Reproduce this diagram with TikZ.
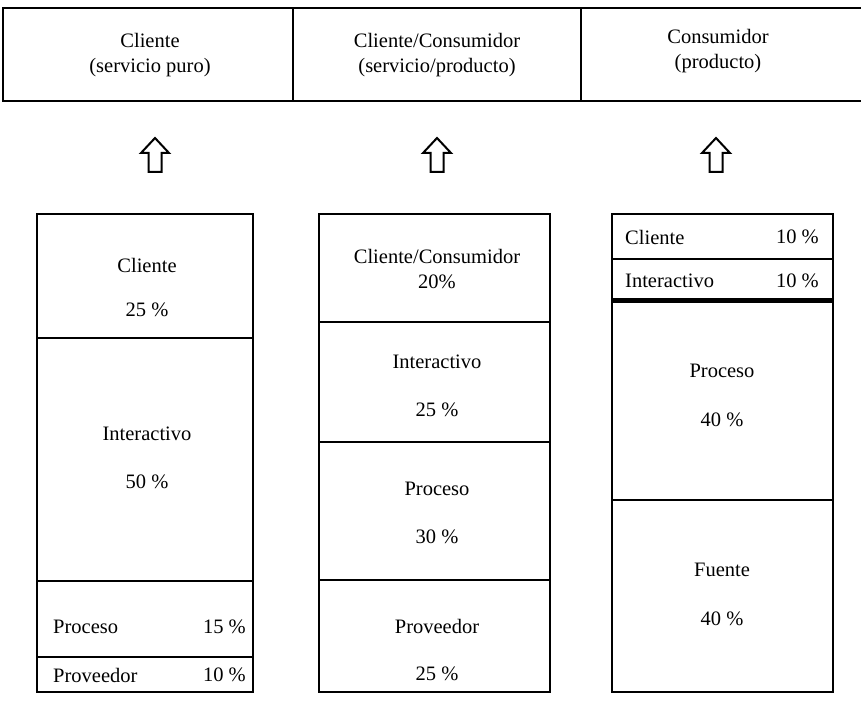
\documentclass[tikz,border=0pt]{standalone}
\usepackage{fontspec}
\setmainfont{Liberation Serif}
\begin{document}
\begin{tikzpicture}[x=1pt,y=-1pt,
  frame/.style={line width=2.5pt,line join=miter},
  divider/.style={line width=2.5pt},
  lbl/.style={font=\fontsize{20.5}{25}\selectfont,inner sep=0pt,align=center},
  blockarrow/.style={line width=2pt,line join=miter}]
\useasboundingbox (0,0) rectangle (861,703);
% top band
\draw[frame] (861,8) -- (3,8) -- (3,101) -- (861,101);
\draw[frame] (293,8) -- (293,101);
\draw[frame] (581,8) -- (581,101);
\node[lbl] (t1) at (150,55) {Cliente\\(servicio puro)};
\node[lbl] (t2) at (437,55) {Cliente/Consumidor\\(servicio/producto)};
\node[lbl] (t3) at (718,51) {Consumidor\\(producto)};
% arrows
\foreach \ax in {155,437,716}{
  \draw[blockarrow] (\ax,138) -- (\ax+14,153) -- (\ax+6.5,153) -- (\ax+6.5,172)
     -- (\ax-6.5,172) -- (\ax-6.5,153) -- (\ax-14,153) -- cycle;
}
% column 1
\draw[frame] (37,214) rectangle (253,692);
\draw[divider] (37,338) -- (253,338);
\draw[divider] (37,581) -- (253,581);
\draw[divider] (37,657) -- (253,657);
\node[lbl] (a1) at (147,265) {Cliente};
\node[lbl] (a2) at (147,310) {25 \%};
\node[lbl] (a3) at (147,434) {Interactivo};
\node[lbl] (a4) at (147,482) {50 \%};
\node[lbl,anchor=west] (a5) at (53,627) {Proceso};
\node[lbl,anchor=east] (a6) at (246,627) {15 \%};
\node[lbl,anchor=west] (a7) at (53,675) {Proveedor};
\node[lbl,anchor=east] (a8) at (246,675) {10 \%};
% column 2
\draw[frame] (319,214) rectangle (550,692);
\draw[divider] (319,322) -- (550,322);
\draw[divider] (319,442) -- (550,442);
\draw[divider] (319,580) -- (550,580);
\node[lbl] (b1) at (437,269) {Cliente/Consumidor\\20\%};
\node[lbl] (b2) at (437,362) {Interactivo};
\node[lbl] (b3) at (437,410) {25 \%};
\node[lbl] (b4) at (437,489) {Proceso};
\node[lbl] (b5) at (437,537) {30 \%};
\node[lbl] (b6) at (437,626) {Proveedor};
\node[lbl] (b7) at (437,674) {25 \%};
% column 3
\draw[frame] (612,214) rectangle (833,692);
\draw[divider] (612,259) -- (833,259);
\draw[line width=5pt] (612,300) -- (833,300);
\draw[divider] (612,500) -- (833,500);
\node[lbl,anchor=west] (c1) at (625,237) {Cliente};
\node[lbl,anchor=east] (c2) at (819,237) {10 \%};
\node[lbl,anchor=west] (c3) at (625,281) {Interactivo};
\node[lbl,anchor=east] (c4) at (819,281) {10 \%};
\node[lbl] (c5) at (722,371) {Proceso};
\node[lbl] (c6) at (722,420) {40 \%};
\node[lbl] (c7) at (722,570) {Fuente};
\node[lbl] (c8) at (722,619) {40 \%};
\end{tikzpicture}
\end{document}
